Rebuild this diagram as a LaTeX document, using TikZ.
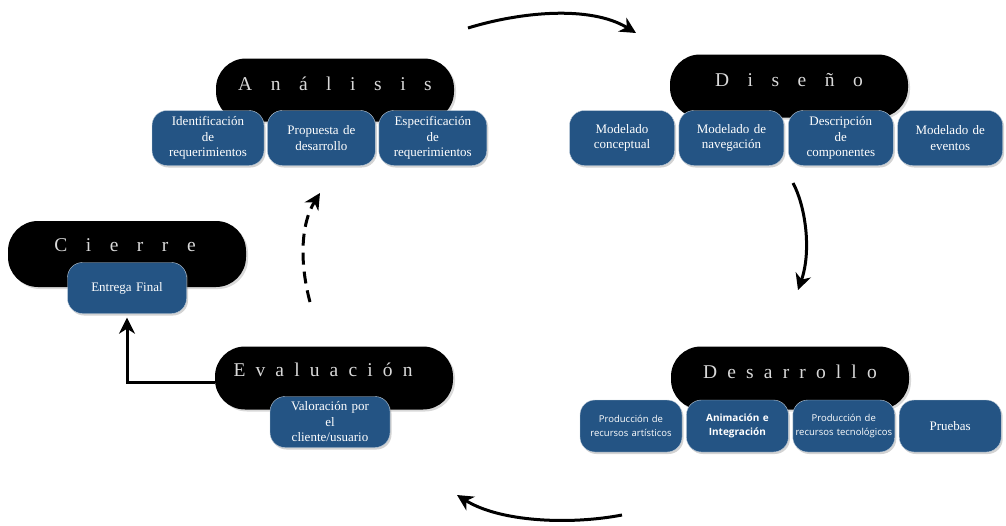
\documentclass[tikz,border=0pt]{standalone}
\usepackage{fontspec}
\setmainfont{Liberation Serif}
\newfontfamily\phasefont[LetterSpace=95]{Liberation Serif}
\newfontfamily\phasefontnarrow[LetterSpace=52]{Liberation Serif}
\newfontfamily\boxsans{Open Sans}
\usetikzlibrary{positioning,arrows.meta,shadows}
\definecolor{taskblue}{RGB}{36,84,132}

\begin{document}
\begin{tikzpicture}[x=1pt,y=-1pt,
			phase/.style={fill=black, rounded corners=30pt, minimum width=238pt, minimum height=63pt, drop shadow={opacity=0.3, shadow xshift=2pt, shadow yshift=-2pt}},
			phasetitle/.style={text=white!85!black, font=\fontsize{19.5}{19.5}\selectfont\phasefont, yshift=6pt},
			narrowtitle/.style={phasetitle, font=\fontsize{19.5}{19.5}\selectfont\phasefontnarrow},
			task/.style={fill=taskblue, draw=white!70!taskblue, thin, rounded corners=15pt, minimum height=55pt, minimum width=108pt, text width=96pt, inner sep=1pt, align=center, text=white, font=\fontsize{13}{15.5}\selectfont, drop shadow={opacity=0.35, shadow xshift=1.5pt, shadow yshift=-2pt}},
			sanstask/.style={task, text width=100pt, font=\fontsize{9.5}{14}\selectfont\boxsans},
			flow/.style={line width=3pt, -{Stealth[length=16pt, width=16pt, inset=5pt]}},
		]
			\useasboundingbox (0,0) rectangle (1006,525);
		
			%Phases
			\node[phase, label={[phasetitle]center:Análisis}]		(ana)	at (335,90)		{};
			\node[phase, label={[phasetitle]center:Diseño}]		(dis)	at (789,86)		{};
			\node[phase, label={[narrowtitle]center:Desarrollo}]	(des)	at (790,378)	{};
			\node[phase, label={[narrowtitle, xshift=-11pt, yshift=2pt]center:Evaluación}]	(eva)	at (334,378)	{};
			\node[phase, minimum height=66pt, label={[phasetitle, xshift=-2pt, yshift=3pt]center:Cierre}]	(cie)	at (127,254)	{};
		
			%Tasks
			\node[task, minimum width=112pt]	(a1)	at (208,138)		{Identificación\\de\\requerimientos};
			\node[task]	(a2)	[right=3pt of a1]	{Propuesta de\\desarrollo};
			\node[task]	(a3)	[right=3pt of a2]	{Especificación\\de\\requerimientos};
		
			\node[task, minimum width=105pt]	(d1)	at (622,138)		{Modelado\\conceptual};
			\node[task, minimum width=105pt]	(d2)	[right=4pt of d1]	{Modelado de\\navegación};
			\node[task, minimum width=105pt]	(d3)	[right=4pt of d2]	{Descripción\\de\\componentes};
			\node[task, minimum width=105pt]	(d4)	[right=4pt of d3]	{Modelado de\\eventos};
		
			\node[sanstask, minimum width=102pt, minimum height=52pt]	(r1)	at (631,426)		{Producción de\\recursos artísticos};
			\node[sanstask, minimum width=102pt, minimum height=52pt, font=\fontsize{10}{14}\selectfont\boxsans\bfseries]	(r2)	[right=4pt of r1]	{Animación e\\Integración};
			\node[sanstask, minimum width=102pt, minimum height=52pt]	(r3)	[right=4pt of r2]	{Producción de\\recursos tecnológicos};
			\node[task, minimum width=102pt, minimum height=52pt]	(r4)	[right=4pt of r3]	{Pruebas};
		
			\node[task, minimum width=119pt, minimum height=51pt]	(ent)	at (127,288)	{Entrega Final};
			\node[task, minimum width=120pt, minimum height=51pt]	(val)	at (330,422)	{Valoración por\\el\\cliente/usuario};
		
			%Arrows
			\coordinate (t1) at (468,28);
			\coordinate (t2) at (636,33);
			\coordinate (s1) at (793,183);
			\coordinate (s2) at (798,290);
			\coordinate (b1) at (622,515);
			\coordinate (b2) at (457,495);
			\coordinate (w1) at (310,302);
			\coordinate (w2) at (320,193);
		
			\draw[flow]	(t1) .. controls (520,12) and (590,5) .. (t2);
			\draw[flow]	(s1) .. controls (805,205) and (812,250) .. (s2);
			\draw[flow]	(b1) .. controls (570,525) and (500,522) .. (b2);
			\draw[flow, dash pattern=on 12pt off 7pt]	(w1) .. controls (300,265) and (300,225) .. (w2);
			\draw[flow, shorten >=4pt]	([yshift=-4pt]eva.west) -| (ent.south);
		
		\end{tikzpicture}
\end{document}
